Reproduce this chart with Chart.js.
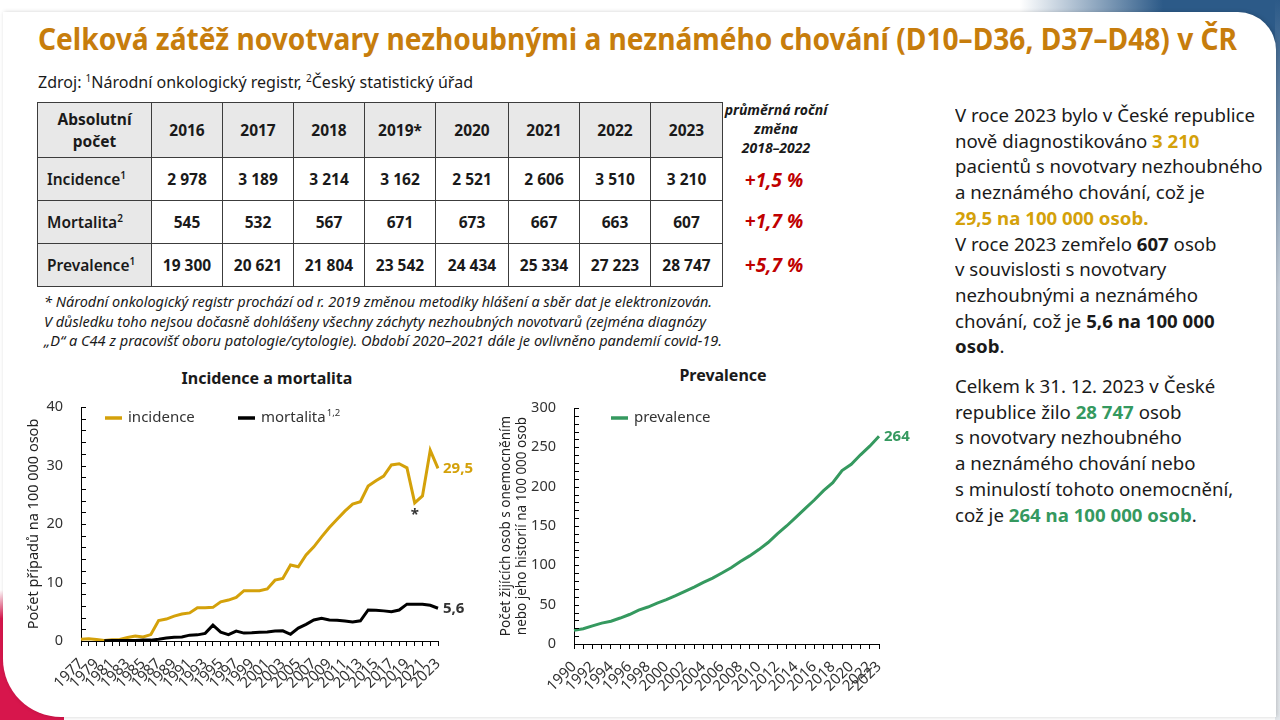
<!DOCTYPE html>
<html lang="cs">
<head>
<meta charset="utf-8">
<title>Celková zátěž novotvary nezhoubnými a neznámého chování</title>
<script src="https://cdn.jsdelivr.net/npm/chart.js@4.4.1/dist/chart.umd.min.js"></script>
<style>
  body { margin: 0; width: 1280px; height: 720px; position: relative; overflow: hidden; background: #fff;
         font-family: 'Noto Sans', 'Open Sans', sans-serif; color: #1a1a1a; }
  .abs { position: absolute; }
  .nowrap { white-space: nowrap; display: inline-block; transform-origin: left center; }
  #blueCorner { right: 0; top: 0; width: 260px; height: 70px;
                background: linear-gradient(to right, rgba(44,90,136,0), #2c5a88 55%); }
  #blueEdge { right: 0; top: 0; width: 5px; height: 720px; background: linear-gradient(#2c5a88, #c9d3de 40%, #e4e8ec); }
  #redCorner { left: 0; top: 590px; width: 64px; height: 130px;
               background: linear-gradient(to bottom, rgba(215,22,76,0), #d7164c 22%); }
  #panel { left: 3px; top: 12px; width: 1273px; height: 705px; background: #fff;
           border-radius: 0 38px 0 58px; box-shadow: 1px 0 4px rgba(0,0,0,0.18); }
  #title { left: 38px; top: 16px; font-weight: bold; font-size: 31px; line-height: 44px; color: #c77d0c; }
  #source { left: 38px; top: 71px; font-size: 16px; line-height: 22px; }
  .sup { font-size: 10px; vertical-align: super; line-height: 0; }
  table { position: absolute; left: 37px; top: 102px; border-collapse: collapse; }
  td { border: 1px solid #3c3c3c; text-align: center; font-weight: bold; font-size: 15.5px; padding: 0; }
  td.head { background: #e8e8e8; }
  td.rowhead { background: #e8e8e8; text-align: left; padding-left: 9px; font-weight: 600; }
  #changeHead { left: 716px; top: 100px; width: 120px; text-align: center; font-size: 14px; line-height: 19px;
                font-weight: bold; font-style: italic; }
  .change { left: 714px; width: 120px; text-align: center; font-size: 19px; font-weight: bold; font-style: italic;
            color: #c00000; line-height: 24px; }
  .foot { left: 44px; font-size: 14px; font-style: italic; line-height: 20px; }
  .ctitle { font-weight: bold; font-size: 16px; line-height: 22px; text-align: center; }
  #side { left: 955px; top: 103px; font-size: 18px; line-height: 25.7px; transform-origin: left top; }
  #side div { white-space: nowrap; }
  .gold { color: #d4a10a; font-weight: bold; }
  .green { color: #35995f; font-weight: bold; }
  .chartBox { position: absolute; }
</style>
</head>
<body>
<div id="blueCorner" class="abs"></div>
<div id="blueEdge" class="abs"></div>
<div id="redCorner" class="abs"></div>
<div id="panel" class="abs"></div>

<div id="title" class="abs nowrap" data-w="1199">Celková zátěž novotvary nezhoubnými a neznámého chování (D10–D36, D37–D48) v ČR</div>
<div id="source" class="abs nowrap" data-w="435">Zdroj: <span class="sup">1</span>Národní onkologický registr, <span class="sup">2</span>Český statistický úřad</div>

<table id="tbl"></table>

<div id="changeHead" class="abs">průměrná roční<br>změna<br>2018–2022</div>
<div id="changes"></div>

<div class="abs foot nowrap" style="top:292px" data-w="668">* Národní onkologický registr prochází od r. 2019 změnou metodiky hlášení a sběr dat je elektronizován.</div>
<div class="abs foot nowrap" style="top:312px" data-w="662">V důsledku toho nejsou dočasně dohlášeny všechny záchyty nezhoubných novotvarů (zejména diagnózy</div>
<div class="abs foot nowrap" style="top:331px" data-w="678">„D“ a C44 z pracovišť oboru patologie/cytologie). Období 2020–2021 dále je ovlivněno pandemií covid-19.</div>

<div class="abs ctitle" style="left:167px; top:367px; width:200px">Incidence a mortalita</div>
<div class="abs ctitle" style="left:623px; top:364px; width:200px">Prevalence</div>

<div class="chartBox" style="left:20px; top:360px; width:460px; height:345px"><canvas id="incChart"></canvas></div>
<div class="chartBox" style="left:480px; top:360px; width:440px; height:345px"><canvas id="prevChart"></canvas></div>

<div id="side" class="abs">
  <div id="sideFirst"><span id="sideLine1">V roce 2023 bylo v České republice</span></div>
  <div>nově diagnostikováno <span class="gold">3 210</span></div>
  <div>pacientů s novotvary nezhoubného</div>
  <div>a neznámého chování, což je</div>
  <div><span class="gold">29,5 na 100 000 osob.</span></div>
  <div>V roce 2023 zemřelo <b>607</b> osob</div>
  <div>v souvislosti s novotvary</div>
  <div>nezhoubnými a neznámého</div>
  <div>chování, což je <b>5,6 na 100 000</b></div>
  <div><b>osob</b>.</div>
  <div style="margin-top:14px">Celkem k 31. 12. 2023 v České</div>
  <div>republice žilo <span class="green">28 747</span> osob</div>
  <div>s novotvary nezhoubného</div>
  <div>a neznámého chování nebo</div>
  <div>s minulostí tohoto onemocnění,</div>
  <div>což je <span class="green">264 na 100 000 osob</span>.</div>
</div>

<script>
// table data (absolute counts)
const tableYears = ['2016', '2017', '2018', '2019*', '2020', '2021', '2022', '2023'];
const tableIncidence = [2978, 3189, 3214, 3162, 2521, 2606, 3510, 3210];
const tableMortality = [545, 532, 567, 671, 673, 667, 663, 607];
const tablePrevalence = [19300, 20621, 21804, 23542, 24434, 25334, 27223, 28747];
const tableChange = ['+1,5 %', '+1,7 %', '+5,7 %'];

// incidence & mortality per 100 000
const incYears = [1977, 1978, 1979, 1980, 1981, 1982, 1983, 1984, 1985, 1986, 1987, 1988, 1989, 1990,
    1991, 1992, 1993, 1994, 1995, 1996, 1997, 1998, 1999, 2000, 2001, 2002, 2003, 2004, 2005, 2006,
    2007, 2008, 2009, 2010, 2011, 2012, 2013, 2014, 2015, 2016, 2017, 2018, 2019, 2020, 2021, 2022, 2023];
const incidence = [0.3, 0.4, 0.25, 0.1, 0.2, 0.25, 0.6, 0.85, 0.7, 1.1, 3.5, 3.75, 4.25, 4.6,
    4.8, 5.7, 5.7, 5.75, 6.7, 7.0, 7.45, 8.6, 8.6, 8.6, 8.9, 10.4, 10.7, 13.0, 12.7, 14.7,
    16.1, 17.8, 19.4, 20.8, 22.2, 23.4, 23.8, 26.5, 27.4, 28.2, 30.1, 30.3, 29.6, 23.6, 24.8, 32.6, 29.5];
const mortality = [null, null, null, 0.05, 0.1, 0.1, 0.1, 0.1, 0.15, 0.15, 0.3, 0.5, 0.65, 0.7,
    1.0, 1.05, 1.3, 2.7, 1.5, 1.1, 1.7, 1.35, 1.4, 1.5, 1.55, 1.7, 1.75, 1.15, 2.2, 2.85,
    3.6, 3.9, 3.6, 3.55, 3.4, 3.25, 3.45, 5.3, 5.25, 5.15, 5.0, 5.3, 6.3, 6.3, 6.3, 6.1, 5.6];

// prevalence per 100 000
const prevYears = [1990, 1991, 1992, 1993, 1994, 1995, 1996, 1997, 1998, 1999, 2000, 2001, 2002, 2003,
    2004, 2005, 2006, 2007, 2008, 2009, 2010, 2011, 2012, 2013, 2014, 2015, 2016, 2017, 2018, 2019,
    2020, 2021, 2022, 2023];
const prevalence = [17.3, 19.4, 23.0, 26.5, 29.0, 33.0, 37.5, 43.0, 47.0, 52.0, 56.3, 61.4, 67.0, 72.4,
    78.3, 83.8, 90.2, 97.0, 105, 112, 120, 129, 140, 150, 161, 172, 183, 195, 205, 220.5,
    228.5, 240.5, 251.5, 264];

const GOLD = '#d4a10a';
const GREEN = '#35995f';
const FONT = "'Noto Sans', 'Open Sans', sans-serif";

function fmt(n) {
    return String(n).replace(/\B(?=(\d{3})+(?!\d))/g, ' ');
}

function buildTable() {
    const colW = [113, 70, 70, 70, 70, 72, 70, 70, 71];
    const rowH = [55, 43, 43, 43];
    let html = '<tr style="height:' + rowH[0] + 'px"><td class="head" style="width:' + colW[0] + 'px">Absolutní<br>počet</td>';
    tableYears.forEach((y, i) => {
        html += '<td class="head" style="width:' + colW[i + 1] + 'px">' + y + '</td>';
    });
    html += '</tr>';
    const rows = [
        ['Incidence', '1', tableIncidence],
        ['Mortalita', '2', tableMortality],
        ['Prevalence', '1', tablePrevalence]
    ];
    rows.forEach((r, k) => {
        html += '<tr style="height:' + rowH[k + 1] + 'px"><td class="rowhead">' + r[0] + '<span class="sup">' + r[1] + '</span></td>';
        r[2].forEach(v => { html += '<td>' + fmt(v) + '</td>'; });
        html += '</tr>';
    });
    document.getElementById('tbl').innerHTML = html;

    const centers = [180, 221, 265];
    let ch = '';
    tableChange.forEach((c, i) => {
        ch += '<div class="abs change" style="top:' + (centers[i] - 12) + 'px">' + c + '</div>';
    });
    document.getElementById('changes').innerHTML = ch;
}

function fitTexts() {
    document.querySelectorAll('[data-w]').forEach(el => {
        el.style.transform = 'none';
        const w = el.getBoundingClientRect().width;
        el.style.transform = 'scaleX(' + (Number(el.dataset.w) / w) + ')';
    });
    const side = document.getElementById('side');
    side.style.transform = 'none';
    const w1 = document.getElementById('sideLine1').getBoundingClientRect().width;
    side.style.transform = 'scaleX(' + (300 / w1) + ')';
}

// small tick marks drawn inside the plot along the y axis
const innerTicks = {
    id: 'innerTicks',
    afterDraw(chart) {
        const ys = chart.scales.y;
        const ctx = chart.ctx;
        const left = chart.chartArea.left;
        ctx.save();
        ctx.strokeStyle = '#000';
        ctx.lineWidth = 1;
        ys.ticks.forEach(t => {
            const py = Math.round(ys.getPixelForValue(t.value)) + 0.5;
            ctx.beginPath();
            ctx.moveTo(left, py);
            ctx.lineTo(left + 5, py);
            ctx.stroke();
        });
        ctx.restore();
    }
};

function legendItem(ctx, x, y, color, text, sup) {
    ctx.strokeStyle = color;
    ctx.lineWidth = 3.5;
    ctx.beginPath();
    ctx.moveTo(x, y);
    ctx.lineTo(x + 17, y);
    ctx.stroke();
    ctx.fillStyle = '#333';
    ctx.font = '15px ' + FONT;
    ctx.textBaseline = 'middle';
    ctx.textAlign = 'left';
    ctx.fillText(text, x + 23, y);
    if (sup) {
        const w = ctx.measureText(text).width;
        ctx.font = '9.5px ' + FONT;
        ctx.fillText(sup, x + 23 + w + 1, y - 5);
    }
}

function endLabel(chart, dsIndex, text, color) {
    const meta = chart.getDatasetMeta(dsIndex);
    const pt = meta.data[meta.data.length - 1];
    const ctx = chart.ctx;
    ctx.fillStyle = color;
    ctx.font = 'bold 15px ' + FONT;
    ctx.textBaseline = 'middle';
    ctx.textAlign = 'left';
    ctx.fillText(text, pt.x + 5, pt.y);
}

const incExtras = {
    id: 'incExtras',
    afterDraw(chart) {
        const a = chart.chartArea;
        const ctx = chart.ctx;
        ctx.save();
        legendItem(ctx, a.left + 24, a.top + 11, GOLD, 'incidence');
        legendItem(ctx, a.left + 157, a.top + 11, '#000', 'mortalita', '1,2');
        endLabel(chart, 0, incidence[incidence.length - 1].toFixed(1).replace('.', ','), GOLD);
        endLabel(chart, 1, mortality[mortality.length - 1].toFixed(1).replace('.', ','), '#333');
        // asterisk under the 2020 point
        const idx = incYears.indexOf(2020);
        const p = chart.getDatasetMeta(0).data[idx];
        ctx.fillStyle = '#333';
        ctx.font = 'bold 15px ' + FONT;
        ctx.textAlign = 'center';
        ctx.textBaseline = 'top';
        ctx.fillText('*', p.x, p.y + 4);
        ctx.restore();
    }
};

const prevExtras = {
    id: 'prevExtras',
    afterDraw(chart) {
        const a = chart.chartArea;
        const ctx = chart.ctx;
        ctx.save();
        legendItem(ctx, a.left + 37, a.top + 10, GREEN, 'prevalence');
        endLabel(chart, 0, String(Math.round(prevalence[prevalence.length - 1])), GREEN);
        ctx.restore();
    }
};

function xAxis(years, showFn, height) {
    return {
        grid: { drawOnChartArea: false, drawTicks: true, tickLength: 5, color: '#000', lineWidth: 1 },
        border: { color: '#000', width: 1 },
        ticks: {
            autoSkip: false, maxRotation: 45, minRotation: 45, padding: 9, color: '#333',
            font: { family: FONT, size: 15 },
            callback: (v, i) => showFn(years[i]) ? String(years[i]) : ''
        },
        afterFit(s) { s.height = height; }
    };
}

function yAxis(max, step, labelStep, title, width, titleSize) {
    return {
        min: 0, max: max,
        grid: { display: false },
        border: { color: '#000', width: 1 },
        ticks: {
            stepSize: step, padding: 10, color: '#333', autoSkip: false, maxTicksLimit: 100,
            font: { family: FONT, size: 14.5 },
            callback: v => (v % labelStep === 0 ? v : '')
        },
        title: { display: true, text: title, color: '#222', font: { family: FONT, size: titleSize }, padding: { top: 0, bottom: 2 } },
        afterFit(s) { s.width = width; }
    };
}

function drawCharts() {
    new Chart(document.getElementById('incChart'), {
        type: 'line',
        data: {
            labels: incYears,
            datasets: [
                { label: 'incidence', data: incidence, borderColor: GOLD, borderWidth: 3, pointRadius: 0, order: 1 },
                { label: 'mortalita', data: mortality, borderColor: '#000', borderWidth: 3, pointRadius: 0, order: 0 }
            ]
        },
        options: {
            responsive: true, maintainAspectRatio: false, animation: false,
            layout: { padding: { top: 47, right: 42, left: 5, bottom: 0 } },
            plugins: { legend: { display: false }, tooltip: { enabled: false } },
            scales: {
                x: xAxis(incYears, y => y % 2 === 1, 64),
                y: yAxis(40, 2, 10, 'Počet případů na 100 000 osob', 56, 14.5)
            }
        },
        plugins: [innerTicks, incExtras]
    });

    new Chart(document.getElementById('prevChart'), {
        type: 'line',
        data: {
            labels: prevYears,
            datasets: [
                { label: 'prevalence', data: prevalence, borderColor: GREEN, borderWidth: 3, pointRadius: 0 }
            ]
        },
        options: {
            responsive: true, maintainAspectRatio: false, animation: false,
            layout: { padding: { top: 48, right: 41, left: 18, bottom: 0 } },
            plugins: { legend: { display: false }, tooltip: { enabled: false } },
            scales: {
                x: xAxis(prevYears, y => y % 2 === 0 || y === 2023, 61),
                y: yAxis(300, 10, 50, ['Počet žijících osob s onemocněním', 'nebo jeho historií na 100 000 osob'], 76, 13.5)
            }
        },
        plugins: [innerTicks, prevExtras]
    });
}

buildTable();
fitTexts();
drawCharts();
if (document.fonts && document.fonts.ready) {
    document.fonts.ready.then(fitTexts);
}
</script>
</body>
</html>
